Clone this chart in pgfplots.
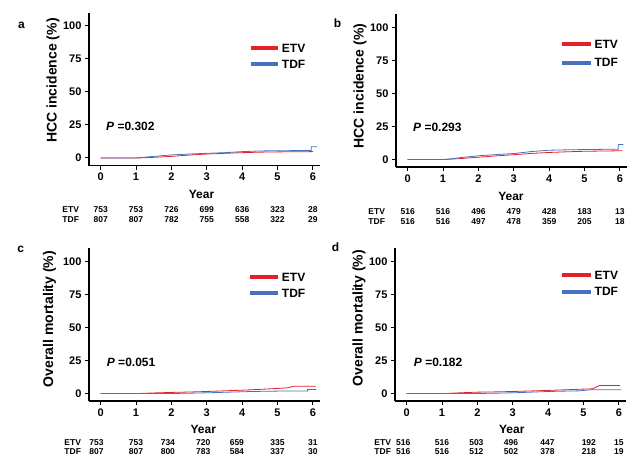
\documentclass[border=0pt]{standalone}
\usepackage{fontspec}
\setmainfont{Liberation Sans}
\usepackage{pgfplots}
\pgfplotsset{compat=1.18}
\definecolor{etv}{RGB}{230,32,40}
\definecolor{tdf}{RGB}{72,112,190}
\newcommand\myrk{\bfseries\fontsize{8.5}{8.5}\selectfont}
\newcommand\mylg{\bfseries\fontsize{12}{12}\selectfont}
\newcommand\myyl{\bfseries\fontsize{14}{14}\selectfont}
\newcommand\myyr{\bfseries\fontsize{12}{12}\selectfont}
\newcommand\mypl{\bfseries\fontsize{12}{12}\selectfont}
\newcommand\risk[5]{%
  \node[font=\myrk] at (axis cs:#1,-5.7) [yshift=-#4pt] {#2};
  \node[font=\myrk] at (axis cs:#1,-5.7) [yshift=-#5pt] {#3};}
\pgfplotsset{
 km/.style={
  scale only axis, width=231pt, height=153pt, anchor=south west,
  xmin=-0.33, xmax=6.2, ymin=-5.7, ymax=110,
  axis x line=bottom, axis y line=left,
  axis line style={-, line width=1.5pt},
  xtick={0,...,6}, ytick={0,25,50,75,100},
  tick align=outside, major tick length=4pt,
  tick style={line width=1pt, black},
  every tick label/.append style={font=\bfseries\fontsize{11}{11}\selectfont},
  /pgf/number format/assume math mode=true,
  clip=false,
 },
 etvl/.style={etv, line width=0.8pt},
 tdfl/.style={tdf, line width=0.8pt},
}
\begin{document}
\begin{tikzpicture}
\useasboundingbox (0pt,0pt) rectangle (631pt,-459pt);
% ---------- panel a
\begin{axis}[km, at={(89pt,-165.5pt)}]
\addplot[etvl] coordinates {(0,0)(1.05,0)(1.5,0.5)(2,1.2)(2.5,2.2)(3,3.0)(3.5,3.5)(4,4.0)(4.5,4.4)(5,4.6)(6.0,4.8)};
\addplot[tdfl] coordinates {(0,0)(1,0)(1.5,1.2)(2,2.3)(2.5,3.0)(3,3.5)(3.5,4.0)(4,4.8)(4.5,5.3)(5,5.5)(5.95,5.6)(5.95,8.5)(6.12,8.5)};
\draw[etv, line width=4.5pt] (axis cs:4.24,83) -- (axis cs:5.01,83);
\draw[tdf, line width=4.5pt] (axis cs:4.24,71) -- (axis cs:5.01,71);
\node[anchor=west, font=\mylg, inner sep=0pt] at (axis cs:5.12,83) {ETV};
\node[anchor=west, font=\mylg, inner sep=0pt] at (axis cs:5.12,71) {TDF};
\node[anchor=west, font=\mypl, inner sep=0pt] at (axis cs:0.15,23.7) {\textit{P} =0.302};
\node[font=\myyr] at (axis cs:2.85,-5.7) [yshift=-28.5pt] {Year};
\risk{0}{753}{807}{44.5}{54.5}
\risk{1}{753}{807}{44.5}{54.5}
\risk{2}{726}{782}{44.5}{54.5}
\risk{3}{699}{755}{44.5}{54.5}
\risk{4}{636}{558}{44.5}{54.5}
\risk{5}{323}{322}{44.5}{54.5}
\risk{6}{28}{29}{44.5}{54.5}
\end{axis}
% ---------- panel b
\begin{axis}[km, at={(396pt,-167pt)}]
\addplot[etvl] coordinates {(0,0)(1.05,0)(1.5,0.7)(2,1.7)(2.5,2.7)(3,3.6)(3.5,4.6)(4,5.3)(4.5,5.8)(5,6.2)(6.07,6.6)};
\addplot[tdfl] coordinates {(0,0)(1.05,0)(1.5,1.4)(2,2.8)(2.5,3.7)(3,4.5)(3.5,6.0)(4,7.0)(4.5,7.3)(5,7.5)(5.95,7.8)(5.95,11.3)(6.1,11.3)};
\draw[etv, line width=4.5pt] (axis cs:4.36,87.4) -- (axis cs:5.17,87.4);
\draw[tdf, line width=4.5pt] (axis cs:4.36,73.1) -- (axis cs:5.17,73.1);
\node[anchor=west, font=\mylg, inner sep=0pt] at (axis cs:5.28,87.4) {ETV};
\node[anchor=west, font=\mylg, inner sep=0pt] at (axis cs:5.28,73.1) {TDF};
\node[anchor=west, font=\mypl, inner sep=0pt] at (axis cs:0.15,24.4) {\textit{P} =0.293};
\node[font=\myyr] at (axis cs:2.92,-5.7) [yshift=-29pt] {Year};
\risk{0}{516}{516}{44.3}{55}
\risk{1}{516}{516}{44.3}{55}
\risk{2}{496}{497}{44.3}{55}
\risk{3}{479}{478}{44.3}{55}
\risk{4}{428}{359}{44.3}{55}
\risk{5}{183}{205}{44.3}{55}
\risk{6}{13}{18}{44.3}{55}
\end{axis}
% ---------- panel c
\begin{axis}[km, at={(89pt,-401pt)}]
\addplot[etvl] coordinates {(0,0)(1.1,0)(1.5,0.4)(2,0.8)(2.5,1.1)(3,1.5)(3.5,2.0)(4,2.5)(4.5,3.1)(5,3.8)(5.3,4.3)(5.47,5.5)(6.08,5.5)};
\addplot[tdfl] coordinates {(0,0)(2,0)(2.5,0.2)(3,0.5)(3.5,0.9)(4,1.3)(4.5,1.6)(5,1.8)(5.85,1.8)(5.85,3.0)(6.1,3.0)};
\draw[etv, line width=4.5pt] (axis cs:4.22,88.1) -- (axis cs:5.01,88.1);
\draw[tdf, line width=4.5pt] (axis cs:4.22,76) -- (axis cs:5.01,76);
\node[anchor=west, font=\mylg, inner sep=0pt] at (axis cs:5.12,88.1) {ETV};
\node[anchor=west, font=\mylg, inner sep=0pt] at (axis cs:5.12,76) {TDF};
\node[anchor=west, font=\mypl, inner sep=0pt] at (axis cs:0.17,23.7) {\textit{P} =0.051};
\node[font=\myyr] at (axis cs:2.9,-5.7) [yshift=-28pt] {Year};
\risk{-0.12}{753}{807}{41.3}{50.7}
\risk{1}{753}{807}{41.3}{50.7}
\risk{1.9}{734}{800}{41.3}{50.7}
\risk{2.9}{720}{783}{41.3}{50.7}
\risk{3.85}{659}{584}{41.3}{50.7}
\risk{5}{335}{337}{41.3}{50.7}
\risk{6}{31}{30}{41.3}{50.7}
\end{axis}
% ---------- panel d
\begin{axis}[km, at={(395pt,-401pt)}]
\addplot[etvl] coordinates {(0,0)(1.1,0)(1.5,0.5)(2,1.0)(2.5,1.2)(3,1.5)(3.5,1.9)(4,2.3)(4.5,2.8)(5,3.3)(5.25,3.5)(5.45,6.0)(6.03,6.0)};
\addplot[tdfl] coordinates {(0,0)(2,0)(2.5,0.2)(3,0.5)(3.5,1.0)(4,1.5)(4.5,1.8)(4.9,2.0)(5.2,2.8)(6.07,2.8)};
\draw[etv, line width=4.5pt] (axis cs:4.39,89.5) -- (axis cs:5.2,89.5);
\draw[tdf, line width=4.5pt] (axis cs:4.39,76.9) -- (axis cs:5.2,76.9);
\node[anchor=west, font=\mylg, inner sep=0pt] at (axis cs:5.31,89.5) {ETV};
\node[anchor=west, font=\mylg, inner sep=0pt] at (axis cs:5.31,76.9) {TDF};
\node[anchor=west, font=\mypl, inner sep=0pt] at (axis cs:0.2,23.4) {\textit{P} =0.182};
\node[font=\myyr] at (axis cs:2.97,-5.7) [yshift=-28.3pt] {Year};
\risk{-0.1}{516}{516}{41.3}{51}
\risk{1}{516}{516}{41.3}{51}
\risk{1.97}{503}{512}{41.3}{51}
\risk{2.95}{496}{502}{41.3}{51}
\risk{3.98}{447}{378}{41.3}{51}
\risk{5.15}{192}{218}{41.3}{51}
\risk{6}{15}{19}{41.3}{51}
\end{axis}
% ---------- outside labels
\node[rotate=90, font=\myyl] at (53pt,-80.5pt) {HCC incidence (\%)};
\node[rotate=90, font=\myyl] at (360pt,-86pt) {HCC incidence (\%)};
\node[rotate=90, font=\myyl] at (49.5pt,-319pt) {Overall mortality (\%)};
\node[rotate=90, font=\myyl] at (359pt,-318pt) {Overall mortality (\%)};
\node[font=\myrk] at (70.7pt,-210pt) {ETV};
\node[font=\myrk] at (70.7pt,-220pt) {TDF};
\node[font=\myrk] at (376.7pt,-211.3pt) {ETV};
\node[font=\myrk] at (376.7pt,-222pt) {TDF};
\node[font=\myrk] at (72.7pt,-442.3pt) {ETV};
\node[font=\myrk] at (72.7pt,-451.7pt) {TDF};
\node[font=\myrk] at (382.7pt,-442.3pt) {ETV};
\node[font=\myrk] at (382.7pt,-452pt) {TDF};
\node[font=\mylg] at (21.5pt,-25pt) {a};
\node[font=\mylg] at (337.5pt,-23pt) {b};
\node[font=\mylg] at (20.7pt,-249.5pt) {c};
\node[font=\mylg] at (335.5pt,-247.5pt) {d};
\end{tikzpicture}
\end{document}
